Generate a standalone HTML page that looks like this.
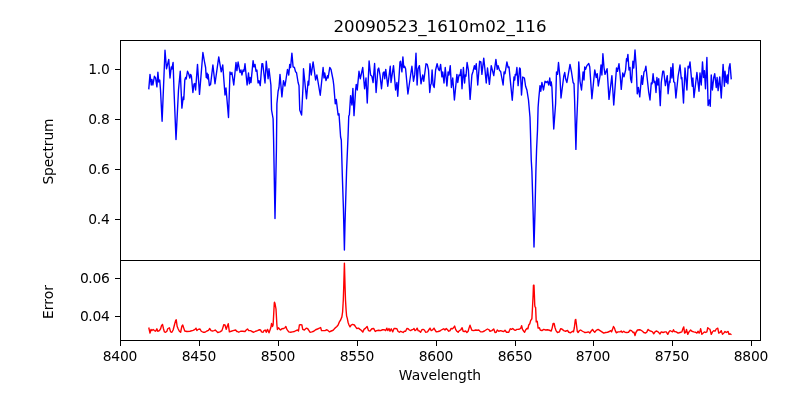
<!DOCTYPE html>
<html><head><meta charset="utf-8"><title>20090523_1610m02_116</title>
<style>html,body{margin:0;padding:0;background:#fff;}svg{display:block;}text{font-family:"DejaVu Sans","Liberation Sans",sans-serif;fill:#000;}</style></head><body>
<svg width="800" height="400" viewBox="0 0 800 400">
<rect width="800" height="400" fill="#fff"/>
<polyline points="148.75,89.40 150.00,74.40 151.25,85.00 151.90,79.40 152.90,85.00 154.40,76.30 155.60,78.00 156.90,86.90 157.90,72.30 158.75,82.00 159.75,80.00 160.50,90.00 162.10,121.25 163.60,85.00 165.00,50.25 166.50,68.75 168.75,59.40 170.00,78.00 171.25,67.00 171.90,69.00 173.10,62.50 174.00,90.00 176.00,139.50 178.50,90.00 180.25,71.25 181.90,108.10 183.20,97.00 183.80,99.50 184.80,80.00 185.60,77.50 186.20,79.00 187.50,71.25 188.75,74.00 189.80,78.00 190.60,74.40 191.40,76.00 192.90,92.50 194.00,84.00 194.80,83.50 195.60,90.00 197.50,64.40 199.50,94.40 202.90,52.50 204.40,61.25 205.60,67.50 206.25,77.50 207.10,73.10 207.50,78.75 208.10,74.40 209.40,85.60 210.60,84.40 212.90,65.00 215.00,83.75 218.75,56.90 221.25,71.90 222.75,65.00 223.50,75.00 225.00,95.00 226.00,88.00 228.50,117.50 230.00,72.00 231.00,74.40 231.90,72.50 233.75,85.00 236.00,62.50 236.90,70.60 238.10,62.00 240.00,72.50 241.00,70.00 241.90,75.00 243.10,70.00 244.00,71.25 245.00,63.75 247.10,85.00 248.50,73.00 249.40,83.75 250.00,77.50 251.00,82.50 253.10,60.60 254.00,66.90 255.00,64.40 256.00,71.25 256.90,70.00 258.10,83.00 259.00,80.60 260.25,85.60 261.90,63.75 262.75,63.75 265.00,83.00 266.25,61.25 268.10,78.75 269.00,68.75 270.90,85.00 271.55,110.00 273.10,118.75 273.60,140.00 275.00,218.50 276.40,150.00 276.90,103.75 278.10,91.25 279.00,87.50 280.00,74.40 281.90,96.90 283.50,80.60 285.00,86.00 287.50,69.40 288.75,75.00 289.75,64.40 290.60,67.50 291.90,53.10 293.10,66.90 294.40,67.50 295.60,71.90 296.50,72.50 298.10,82.50 299.00,85.60 299.75,110.00 301.60,115.00 303.10,85.00 303.50,68.75 306.50,98.75 308.10,81.25 308.75,85.00 310.00,63.75 311.25,75.00 313.10,61.90 315.60,80.00 316.90,75.00 320.25,95.25 323.10,67.50 324.00,78.00 324.75,73.00 326.00,80.60 327.50,75.60 328.10,78.00 329.75,67.50 331.00,69.40 333.10,80.00 333.75,85.00 335.25,103.75 336.25,99.40 338.10,115.00 339.00,113.75 340.60,137.00 341.30,140.00 342.30,175.00 343.40,208.00 344.40,250.00 345.00,224.00 346.60,170.00 348.10,135.00 348.75,116.25 349.40,114.40 350.60,95.60 351.90,105.00 352.90,88.40 354.00,115.60 355.60,90.00 356.25,84.40 357.25,90.00 359.00,71.25 360.25,78.75 362.75,67.50 364.60,88.75 366.00,78.00 367.25,103.00 369.10,61.00 370.60,75.00 371.90,76.25 373.10,82.50 374.60,63.50 376.10,92.50 377.90,69.40 378.75,68.00 380.00,75.00 381.50,88.75 383.10,73.00 384.00,71.90 384.75,78.75 385.75,69.40 387.75,86.25 390.25,66.25 391.00,82.50 393.50,65.60 395.60,90.00 396.90,82.50 397.75,96.25 400.00,61.90 400.60,61.25 401.90,71.90 402.90,56.90 403.75,67.50 404.60,66.25 405.60,68.75 407.90,94.00 411.90,66.25 413.50,81.25 414.75,74.40 416.00,53.10 417.10,85.00 418.10,68.75 419.40,65.60 421.00,83.75 422.75,75.00 423.75,81.25 426.00,63.75 427.25,64.40 428.50,70.00 429.75,92.50 430.60,85.00 431.25,83.75 432.10,70.00 433.10,85.00 434.20,87.50 435.60,70.00 437.10,63.75 438.50,69.40 439.40,70.60 440.60,64.40 441.90,76.90 442.75,71.90 444.00,83.00 445.25,67.50 446.90,86.00 448.10,71.90 449.00,75.00 450.25,65.60 451.40,87.50 452.75,78.00 454.40,100.00 456.90,74.40 457.75,82.50 459.00,75.00 460.00,75.60 461.00,69.40 462.00,88.75 463.40,67.50 464.60,83.00 465.25,75.00 466.00,76.25 467.10,62.50 468.40,70.00 470.10,99.40 471.90,75.00 473.10,71.25 474.40,65.60 475.25,69.40 476.25,63.75 477.75,85.00 479.60,61.25 480.90,61.90 481.90,74.40 483.75,58.10 484.75,67.50 486.25,83.00 487.50,68.00 489.40,84.40 491.25,65.60 492.50,70.60 493.75,75.60 495.90,59.40 497.25,69.40 498.10,65.60 499.60,70.60 500.60,71.25 503.10,85.00 504.10,71.90 505.00,73.75 506.90,61.90 508.10,67.50 509.00,66.90 510.40,81.25 512.25,100.25 514.00,76.90 514.75,80.00 515.25,74.40 516.00,75.00 516.90,67.50 518.10,85.60 519.60,68.00 520.30,69.00 521.50,95.00 522.75,77.00 524.40,78.00 525.60,86.25 526.90,90.00 528.50,100.00 530.00,117.50 530.40,130.00 531.25,160.00 531.90,171.00 533.10,211.00 534.00,247.00 535.00,211.00 535.90,171.00 536.60,149.00 537.50,130.00 538.10,107.50 538.75,98.75 540.00,85.60 540.80,91.25 541.90,82.50 543.50,90.00 545.00,81.25 546.25,82.50 547.50,81.25 548.75,85.00 549.75,78.00 550.60,85.60 551.25,82.00 551.90,87.00 553.75,129.00 555.60,103.75 556.50,72.00 557.50,74.40 558.50,62.50 560.00,78.00 561.00,98.00 563.75,76.25 564.75,72.50 565.60,78.75 566.90,82.50 570.00,64.40 571.50,72.00 573.10,82.50 574.00,83.75 574.60,100.00 575.90,149.40 576.60,125.00 577.75,97.50 578.75,61.90 580.00,81.25 581.50,90.00 583.10,71.90 584.00,80.00 584.75,66.90 585.60,69.40 586.90,65.60 588.75,63.50 589.75,67.00 591.90,98.75 594.75,70.00 596.25,77.50 597.25,73.75 598.30,86.00 600.00,76.25 601.00,65.00 601.90,75.00 602.90,53.75 604.00,67.50 605.00,74.40 607.10,68.75 609.00,99.40 611.90,75.60 613.75,105.00 616.50,68.00 617.50,71.25 619.00,63.75 620.25,76.25 621.25,89.40 622.75,73.00 624.00,76.90 625.60,70.00 626.50,58.75 627.00,61.00 627.90,54.40 629.00,70.00 630.00,67.50 630.60,78.75 631.60,82.50 632.90,61.25 633.75,68.00 635.00,50.00 636.25,67.50 637.25,93.75 638.40,87.50 639.75,96.90 641.60,75.60 642.50,84.40 644.00,71.90 645.00,70.60 645.90,66.25 647.10,77.50 648.75,92.50 650.00,100.00 651.25,83.00 652.10,83.75 653.10,73.75 654.00,82.50 655.00,81.25 656.00,92.50 656.90,77.50 657.90,85.00 658.75,78.75 660.25,105.60 661.25,82.50 662.75,71.25 663.75,71.25 665.40,85.60 667.25,75.60 668.10,93.75 669.40,81.25 670.00,82.50 670.90,67.50 671.90,78.00 672.90,63.75 673.75,81.90 674.75,82.50 675.90,98.00 678.10,76.25 680.00,65.00 681.25,78.75 681.90,77.50 683.50,103.00 685.00,68.00 686.90,90.00 688.10,66.25 689.00,68.00 690.00,61.90 691.50,78.75 692.25,86.25 692.90,78.00 694.00,97.50 696.90,72.50 699.00,91.25 700.00,73.00 701.25,85.00 702.50,61.90 703.50,77.50 704.40,70.60 705.50,88.75 706.90,57.50 708.10,105.60 709.40,100.00 710.25,106.25 711.25,75.00 712.40,90.00 713.75,77.50 714.75,73.75 716.25,87.50 717.10,77.50 718.10,90.60 719.75,76.90 721.25,98.00 723.10,64.40 724.40,86.25 725.00,71.25 726.25,82.50 727.25,75.00 727.90,83.75 729.00,68.00 730.00,63.75 731.25,79.40" fill="none" stroke="#0000ff" stroke-width="1.39" stroke-linejoin="round" stroke-linecap="butt"/>
<polyline points="148.75,327.50 150.00,333.12 151.00,329.38 151.88,330.62 153.12,329.38 154.38,330.62 155.62,331.25 156.88,328.75 157.75,331.25 159.38,330.62 160.62,328.75 161.50,325.62 162.50,324.38 163.50,328.75 164.38,331.88 165.62,332.25 166.88,331.25 167.75,328.75 169.38,327.75 170.62,331.88 171.88,332.25 173.12,330.00 174.75,323.75 175.62,320.62 176.25,319.75 177.12,326.25 178.12,328.75 179.38,331.25 180.62,332.25 181.88,326.25 182.75,325.00 183.75,328.12 184.75,331.00 186.88,331.50 190.00,331.25 193.12,330.38 195.00,329.38 196.00,328.12 196.88,330.62 198.12,329.38 200.00,329.00 201.25,331.25 203.12,332.25 205.00,332.25 206.88,331.00 208.50,330.38 209.75,328.50 211.00,330.62 212.50,331.00 214.00,330.62 215.25,330.00 216.50,331.25 217.75,332.50 220.00,331.88 221.88,330.62 222.75,328.12 223.75,324.75 225.00,325.00 226.25,329.38 227.25,326.25 228.25,323.75 229.38,331.88 231.25,331.25 233.12,330.62 235.62,330.00 236.88,331.50 237.50,331.50 238.75,332.25 240.62,331.25 242.50,331.25 245.00,331.50 246.25,330.00 247.50,329.00 248.75,330.62 250.62,330.62 251.88,331.50 253.75,332.25 255.62,331.25 257.50,330.62 259.38,329.75 260.62,330.00 261.50,331.88 263.12,332.25 264.00,330.62 265.25,330.00 266.25,332.25 267.50,329.38 269.00,332.75 270.00,330.00 270.88,327.50 271.50,323.50 272.50,326.50 273.10,325.00 274.30,303.00 274.50,302.20 275.00,303.50 276.00,309.00 276.90,325.00 277.40,329.50 278.50,327.75 279.75,329.38 280.62,330.00 281.88,328.75 283.75,328.50 285.00,327.75 285.88,326.50 286.88,329.38 288.75,331.88 290.62,332.25 292.50,331.88 294.38,331.50 296.00,330.62 297.50,330.00 298.50,331.00 299.38,325.00 300.62,324.62 301.88,325.00 302.75,329.38 304.38,330.00 306.25,328.12 307.75,328.75 309.00,330.62 310.00,332.25 311.88,331.88 313.75,331.25 315.62,329.75 317.50,329.00 319.38,328.12 320.62,327.50 321.50,330.62 323.12,330.62 325.00,330.62 326.88,329.75 328.12,330.62 329.38,331.88 331.25,331.00 333.12,330.25 335.00,328.12 336.88,326.50 338.12,325.00 339.38,321.88 340.62,320.00 341.88,316.88 342.60,312.00 343.30,300.00 343.70,288.00 344.40,263.10 345.10,288.00 345.50,300.00 346.10,310.00 346.60,316.00 347.25,318.12 348.12,322.50 349.00,325.00 350.00,326.88 351.25,325.00 352.50,324.38 354.38,325.00 355.62,326.88 356.88,328.50 358.50,328.12 360.00,329.38 361.25,330.25 362.75,332.12 364.00,329.38 365.62,328.12 367.12,326.50 368.50,330.62 370.00,331.00 371.88,328.75 373.75,328.50 375.25,331.50 376.50,330.62 378.75,330.25 380.62,330.62 382.50,329.75 384.38,329.75 385.62,330.62 386.88,328.12 387.75,330.62 389.00,328.50 390.00,331.25 391.25,328.75 392.75,331.88 394.00,328.50 395.00,328.50 396.88,328.75 398.12,331.50 399.38,332.25 400.62,331.25 401.88,331.88 403.12,332.50 404.38,331.25 405.62,331.25 406.88,328.50 408.12,328.75 409.38,330.00 410.62,330.62 411.88,329.75 413.12,329.38 414.00,328.50 415.00,330.62 416.00,330.00 417.12,328.12 418.12,330.62 419.38,331.00 420.62,332.25 421.88,329.75 423.12,329.38 424.38,330.00 425.62,332.25 427.50,331.88 428.75,330.00 430.00,328.12 431.25,330.62 432.50,330.00 434.00,328.12 435.00,330.00 436.25,331.88 438.12,331.50 440.00,331.00 441.25,330.00 442.50,329.38 443.75,328.75 445.00,330.00 446.25,328.50 447.50,329.75 448.75,331.25 450.00,330.62 451.00,328.50 452.50,328.75 453.50,327.75 454.62,326.00 455.62,329.38 456.88,331.25 458.12,332.25 459.38,330.62 460.62,330.00 462.12,327.75 463.12,331.25 464.38,331.50 465.62,331.00 466.88,332.50 468.12,331.25 469.00,328.12 470.00,325.25 471.00,328.12 471.88,330.25 473.75,330.62 475.62,330.00 477.50,330.25 478.75,330.00 480.62,331.88 482.50,331.88 484.38,331.00 486.25,329.75 487.50,329.00 489.00,329.75 490.00,331.25 491.88,330.62 493.75,329.00 495.00,332.50 496.25,332.25 497.25,330.00 498.75,331.25 500.62,330.62 502.50,331.25 503.75,331.50 505.00,330.25 506.50,332.25 508.75,332.25 510.25,328.75 511.50,329.38 512.75,328.50 514.38,330.00 515.62,330.25 516.88,329.38 518.12,329.38 519.75,329.00 520.62,328.50 521.62,325.62 522.50,329.38 523.75,331.25 524.62,332.25 525.62,330.00 526.88,328.50 527.88,328.75 528.75,325.00 529.75,323.75 530.62,320.62 531.88,318.75 532.50,307.50 533.12,295.00 533.45,285.20 534.00,285.20 534.38,295.00 534.75,305.00 535.00,306.88 535.62,307.50 536.25,321.88 537.25,321.25 538.12,328.12 539.38,327.75 540.25,330.00 541.88,330.62 543.75,329.38 545.62,330.00 547.50,329.75 549.38,330.25 551.25,331.00 552.12,328.12 553.12,323.50 554.12,323.50 555.00,327.50 556.00,330.62 557.50,332.50 559.38,331.88 560.62,328.75 561.88,329.00 563.75,330.62 565.62,331.25 567.50,330.38 568.75,332.25 570.62,332.75 572.50,331.25 573.50,331.88 574.38,327.50 575.25,320.00 575.75,319.38 576.50,325.00 577.25,331.25 578.12,332.50 579.38,330.62 580.62,330.00 582.50,331.25 584.38,332.25 585.00,332.50 586.88,332.25 588.75,331.88 589.75,333.12 591.00,331.25 592.50,329.38 593.75,331.25 594.75,332.25 596.25,330.38 598.12,329.38 600.00,330.62 601.88,331.88 603.75,333.12 605.62,332.50 607.50,332.25 609.38,331.50 610.62,330.62 611.50,331.88 612.50,329.38 613.50,326.50 614.50,328.12 615.25,330.62 616.25,332.75 618.12,331.88 620.00,331.88 621.25,331.00 622.12,332.50 623.75,331.25 625.00,332.25 626.88,332.50 628.50,332.25 630.00,330.25 631.50,330.62 633.12,332.50 634.00,332.25 635.00,335.62 635.88,332.50 637.50,330.00 639.38,329.75 640.62,330.00 642.50,331.25 643.75,332.50 645.62,333.12 646.88,331.88 648.12,329.38 649.38,330.62 651.25,331.25 652.50,331.88 653.75,333.75 655.00,331.88 656.25,331.00 658.12,331.88 660.00,334.00 661.25,331.88 663.12,332.50 665.00,331.88 666.25,331.88 667.75,334.38 669.00,331.88 670.00,330.62 671.25,331.25 672.50,331.88 673.50,329.75 674.38,331.50 676.25,331.88 678.12,333.12 680.00,332.50 681.88,331.88 682.88,328.75 683.75,326.88 684.62,333.12 685.62,332.50 686.50,329.38 687.75,334.38 689.00,331.88 690.62,330.00 691.88,331.25 693.75,331.88 695.62,332.25 696.88,333.12 698.12,331.25 699.12,333.12 700.00,331.25 700.62,328.75 701.88,334.38 703.12,333.12 704.38,331.88 705.62,332.50 706.88,331.88 707.75,327.75 709.00,328.75 710.00,329.38 711.25,334.38 712.50,331.88 713.75,330.62 715.00,331.25 716.25,329.00 717.75,328.12 718.75,333.12 720.00,332.50 721.25,330.62 722.50,334.38 723.75,333.12 725.00,331.50 726.25,332.50 727.25,331.88 728.12,331.50 729.00,334.38 730.00,333.75 731.50,334.75" fill="none" stroke="#ff0000" stroke-width="1.39" stroke-linejoin="round" stroke-linecap="butt"/>
<g fill="#000" shape-rendering="crispEdges">
<rect x="120" y="40" width="1" height="301"/>
<rect x="760" y="40" width="1" height="301"/>
<rect x="120" y="40" width="641" height="1"/>
<rect x="120" y="260" width="641" height="1"/>
<rect x="120" y="340" width="641" height="1"/>
<rect x="120" y="341" width="1" height="5"/>
<rect x="199" y="341" width="1" height="5"/>
<rect x="278" y="341" width="1" height="5"/>
<rect x="357" y="341" width="1" height="5"/>
<rect x="436" y="341" width="1" height="5"/>
<rect x="515" y="341" width="1" height="5"/>
<rect x="593" y="341" width="1" height="5"/>
<rect x="672" y="341" width="1" height="5"/>
<rect x="751" y="341" width="1" height="5"/>
<rect x="115" y="69" width="5" height="1"/>
<rect x="115" y="119" width="5" height="1"/>
<rect x="115" y="169" width="5" height="1"/>
<rect x="115" y="219" width="5" height="1"/>
<rect x="115" y="278" width="5" height="1"/>
<rect x="115" y="316" width="5" height="1"/>
</g>
<text x="119.90" y="361.0" font-size="13.889" letter-spacing="-0.25" text-anchor="middle">8400</text>
<text x="198.90" y="361.0" font-size="13.889" letter-spacing="-0.25" text-anchor="middle">8450</text>
<text x="277.90" y="361.0" font-size="13.889" letter-spacing="-0.25" text-anchor="middle">8500</text>
<text x="356.90" y="361.0" font-size="13.889" letter-spacing="-0.25" text-anchor="middle">8550</text>
<text x="435.90" y="361.0" font-size="13.889" letter-spacing="-0.25" text-anchor="middle">8600</text>
<text x="514.90" y="361.0" font-size="13.889" letter-spacing="-0.25" text-anchor="middle">8650</text>
<text x="592.90" y="361.0" font-size="13.889" letter-spacing="-0.25" text-anchor="middle">8700</text>
<text x="671.90" y="361.0" font-size="13.889" letter-spacing="-0.25" text-anchor="middle">8750</text>
<text x="750.90" y="361.0" font-size="13.889" letter-spacing="-0.25" text-anchor="middle">8800</text>
<text x="109.4" y="74.10" font-size="13.889" letter-spacing="-0.35" text-anchor="end">1.0</text>
<text x="109.4" y="124.10" font-size="13.889" letter-spacing="-0.35" text-anchor="end">0.8</text>
<text x="109.4" y="174.10" font-size="13.889" letter-spacing="-0.35" text-anchor="end">0.6</text>
<text x="109.4" y="224.10" font-size="13.889" letter-spacing="-0.35" text-anchor="end">0.4</text>
<text x="109.4" y="283.10" font-size="13.889" letter-spacing="-0.35" text-anchor="end">0.06</text>
<text x="109.4" y="321.10" font-size="13.889" letter-spacing="-0.35" text-anchor="end">0.04</text>
<text x="440" y="31.67" font-size="16.667" text-anchor="middle">20090523_1610m02_116</text>
<text x="440" y="380" font-size="13.889" text-anchor="middle">Wavelength</text>
<text transform="translate(53,151.6) rotate(-90)" font-size="13.889" letter-spacing="-0.15" text-anchor="middle">Spectrum</text>
<text transform="translate(53,302) rotate(-90)" font-size="13.889" text-anchor="middle">Error</text>
</svg></body></html>
